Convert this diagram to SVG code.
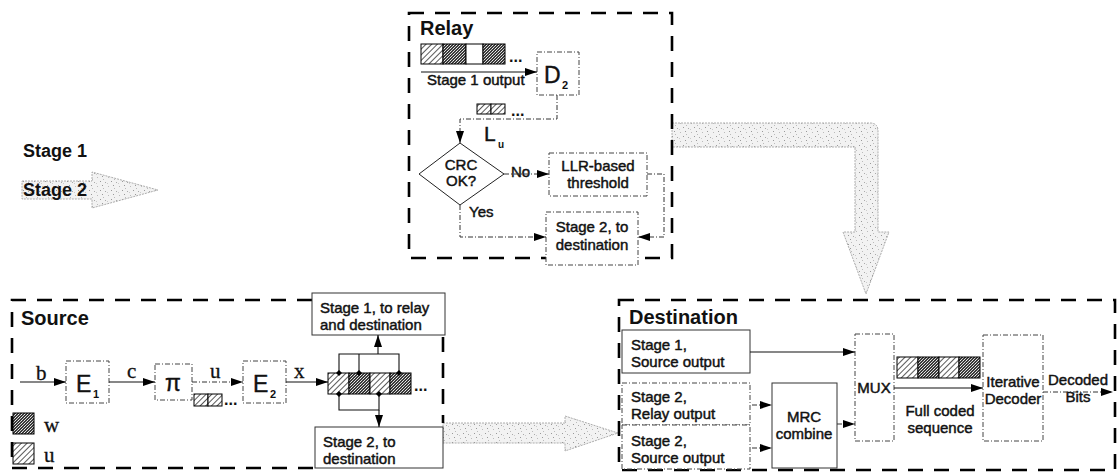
<svg xmlns="http://www.w3.org/2000/svg" width="1120" height="476" viewBox="0 0 1120 476">
<defs>
  <pattern id="hatch" width="4" height="4" patternUnits="userSpaceOnUse" patternTransform="rotate(45)">
    <rect width="4" height="4" fill="#fff"/>
    <line x1="0" y1="0" x2="0" y2="4" stroke="#000" stroke-width="1.3"/>
  </pattern>
  <pattern id="cross" width="3" height="3" patternUnits="userSpaceOnUse">
    <rect width="3" height="3" fill="#3a3a3a"/>
    <rect x="0" y="0" width="1" height="1" fill="#eee"/>
    <rect x="2" y="1" width="1" height="1" fill="#ccc"/>
    <rect x="1" y="2" width="1" height="1" fill="#ddd"/>
  </pattern>
  <pattern id="stipple" width="11" height="9" patternUnits="userSpaceOnUse">
    <rect width="11" height="9" fill="#f2f2f2"/>
    <rect x="1" y="1" width="1" height="1" fill="#999"/>
    <rect x="6" y="2" width="1" height="1" fill="#aaa"/>
    <rect x="3" y="5" width="1" height="1" fill="#999"/>
    <rect x="9" y="6" width="1" height="1" fill="#bbb"/>
    <rect x="8" y="3" width="1" height="1" fill="#ccc"/>
    <rect x="4" y="8" width="1" height="1" fill="#bbb"/>
  </pattern>
  <marker id="ah" viewBox="0 0 12 8" refX="12" refY="4" markerWidth="12" markerHeight="8" markerUnits="userSpaceOnUse" orient="auto">
    <path d="M0,0 L12,4 L0,8 z" fill="#000"/>
  </marker>
  <marker id="dot" viewBox="0 0 6 6" refX="3" refY="3" markerWidth="6" markerHeight="6" markerUnits="userSpaceOnUse">
    <path d="M3,0 L6,3 L3,6 L0,3 z" fill="#000"/>
  </marker>
  <style>
    text { font-family: "Liberation Sans", Arial, sans-serif; fill: #111; }
    .t { font-size: 15px; stroke: #111; stroke-width: 0.45; }
    .title { font-size: 20px; font-weight: bold; }
    .var { font-family: "Liberation Serif", "Times New Roman", serif; font-size: 21px; stroke: #111; stroke-width: 0.3; }
    .big { font-size: 23px; stroke: #111; stroke-width: 0.4; }
    .sub { font-size: 11px; font-weight: bold; }
    .grp { fill: none; stroke: #000; stroke-width: 2.6; stroke-dasharray: 15 11; }
    .box { fill: #fff; stroke: #333; stroke-width: 1; }
    .dbox { fill: #fff; stroke: #444; stroke-width: 1; stroke-dasharray: 5 2 1 2; }
    .ln { fill: none; stroke: #111; stroke-width: 1.1; }
    .dl { fill: none; stroke: #333; stroke-width: 1; stroke-dasharray: 5 2 1 2; }
    .cell { stroke: #000; stroke-width: 1; }
    .shade { fill: url(#stipple); stroke: #999; stroke-width: 0.8; stroke-dasharray: 2 1; }
    .dots { font-size: 16px; font-weight: bold; }
  </style>
</defs>

<!-- Legend -->
<g id="legend">
  <text x="23" y="157" style="font-size:18px;font-weight:bold">Stage 1</text>
  <path class="shade" d="M22,181 H92 V172 L158,190 L92,208 V199 H22 Z"/>
  <text x="23" y="196" style="font-size:18px;font-weight:bold">Stage 2</text>
</g>

<!-- Big stage-2 arrows -->
<g id="stage2-arrows">
  <path class="shade" d="M672,123 H870 Q878,123 878,131 V232 H889 L866,294 L843,232 H855 V147 H672 Z"/>
  <path class="shade" d="M443,423 H565 V416 L618,433 L565,451 V443 H443 Z"/>
</g>

<!-- Relay -->
<g id="relay">
  <rect class="grp" x="409" y="13" width="263" height="245"/>
  <text class="title" x="420" y="35">Relay</text>
  <rect class="cell" x="421" y="44" width="22" height="20" fill="url(#hatch)"/>
  <rect class="cell" x="443" y="44" width="23" height="20" fill="url(#cross)"/>
  <rect class="cell" x="466" y="44" width="17" height="20" fill="#fff"/>
  <rect class="cell" x="483" y="44" width="22" height="20" fill="url(#cross)"/>
  <text class="dots" x="509" y="62">...</text>
  <text class="t" x="427" y="85">Stage 1 output</text>
  <g id="relay-d2">
    <rect class="dbox" x="537" y="52" width="42" height="43"/>
    <text class="big" x="544" y="83">D</text>
    <text class="sub" x="562" y="89">2</text>
  </g>
  <rect class="cell" x="477" y="104" width="14" height="10" fill="url(#hatch)"/>
  <rect class="cell" x="491" y="104" width="14" height="10" fill="url(#hatch)"/>
  <text class="dots" x="511" y="116">...</text>
  <text class="big" x="484" y="141" style="font-size:21px">L</text>
  <text class="sub" x="498" y="148" style="font-size:10px">u</text>
  <g id="relay-crc">
    <path d="M460,143 L504,174 L460,205 L419,174 Z" fill="#fff" stroke="#222" stroke-width="1"/>
    <text class="t" x="461" y="170" text-anchor="middle">CRC</text>
    <text class="t" x="461" y="186" text-anchor="middle">OK?</text>
  </g>
  <text class="t" x="511" y="177">No</text>
  <text class="t" x="469" y="217">Yes</text>
  <g id="relay-llr">
    <rect class="dbox" x="549" y="153" width="98" height="43"/>
    <text class="t" x="598" y="171" text-anchor="middle">LLR-based</text>
    <text class="t" x="598" y="188" text-anchor="middle">threshold</text>
  </g>
  <g id="relay-stage2">
    <rect class="dbox" x="546" y="212" width="92" height="53"/>
    <text class="t" x="592" y="232" text-anchor="middle">Stage 2, to</text>
    <text class="t" x="592" y="250" text-anchor="middle">destination</text>
  </g>
</g>

<!-- Source -->
<g id="source">
  <path class="grp" d="M312,300 H12 V468 H314"/>
  <path class="grp" d="M443,337 V423"/>
  <text class="title" x="21" y="325">Source</text>
  <g id="src-e1">
    <rect class="dbox" x="66" y="361" width="43" height="42"/>
    <text class="big" x="76" y="392">E</text>
    <text class="sub" x="93" y="398">1</text>
  </g>
  <g id="src-pi">
    <rect class="dbox" x="155" y="364" width="37" height="36"/>
    <text class="big" x="173" y="391" text-anchor="middle">π</text>
  </g>
  <g id="src-e2">
    <rect class="dbox" x="243" y="361" width="43" height="42"/>
    <text class="big" x="253" y="392">E</text>
    <text class="sub" x="270" y="398">2</text>
  </g>
  <rect class="cell" x="194" y="394" width="14" height="12" fill="url(#hatch)"/>
  <rect class="cell" x="208" y="394" width="14" height="12" fill="url(#hatch)"/>
  <text class="dots" x="224" y="405">...</text>
  <text class="var" x="36" y="380">b</text>
  <text class="var" x="127" y="378">c</text>
  <text class="var" x="210" y="378">u</text>
  <text class="var" x="294" y="378">x</text>
  <rect class="cell" x="328" y="373" width="21" height="21" fill="url(#hatch)"/>
  <rect class="cell" x="349" y="373" width="21" height="21" fill="url(#cross)"/>
  <rect class="cell" x="370" y="373" width="20" height="21" fill="url(#hatch)"/>
  <rect class="cell" x="390" y="373" width="21" height="21" fill="url(#cross)"/>
  <text class="dots" x="414" y="391">...</text>
  <rect class="cell" x="13" y="413" width="21" height="21" fill="url(#cross)"/>
  <text class="var" x="44" y="432">w</text>
  <rect class="cell" x="13" y="443" width="21" height="21" fill="url(#hatch)"/>
  <text class="var" x="44" y="462">u</text>
  <g id="src-stage1">
    <rect class="box" x="312" y="293" width="133" height="42"/>
    <text class="t" x="320" y="313">Stage 1, to relay</text>
    <text class="t" x="320" y="330">and destination</text>
  </g>
  <g id="src-stage2">
    <rect class="box" x="315" y="427" width="128" height="41"/>
    <text class="t" x="323" y="447">Stage 2, to</text>
    <text class="t" x="323" y="464">destination</text>
  </g>
</g>

<!-- Destination -->
<g id="destination">
  <rect class="grp" x="619" y="300" width="496" height="170"/>
  <text class="title" x="629" y="324">Destination</text>
  <g id="dst-s1">
    <rect class="box" x="622" y="330" width="128" height="43"/>
    <text class="t" x="631" y="350">Stage 1,</text>
    <text class="t" x="631" y="367">Source output</text>
  </g>
  <g id="dst-s2r">
    <rect class="dbox" x="622" y="383" width="128" height="42"/>
    <text class="t" x="631" y="402">Stage 2,</text>
    <text class="t" x="631" y="419">Relay output</text>
  </g>
  <g id="dst-s2s">
    <rect class="dbox" x="622" y="425" width="128" height="44"/>
    <text class="t" x="631" y="446">Stage 2,</text>
    <text class="t" x="631" y="463">Source output</text>
  </g>
  <g id="dst-mrc">
    <rect class="box" x="772" y="383" width="65" height="85"/>
    <text class="t" x="804" y="422" text-anchor="middle">MRC</text>
    <text class="t" x="804" y="439" text-anchor="middle">combine</text>
  </g>
  <g id="dst-mux">
    <rect class="dbox" x="855" y="334" width="39" height="107"/>
    <text class="t" x="874" y="393" text-anchor="middle" style="font-size:15px">MUX</text>
  </g>
  <rect class="cell" x="897" y="357" width="21" height="21" fill="url(#hatch)"/>
  <rect class="cell" x="918" y="357" width="21" height="21" fill="url(#cross)"/>
  <rect class="cell" x="939" y="357" width="20" height="21" fill="url(#hatch)"/>
  <rect class="cell" x="959" y="357" width="21" height="21" fill="url(#cross)"/>
  <text class="t" x="940" y="416" text-anchor="middle">Full coded</text>
  <text class="t" x="940" y="433" text-anchor="middle">sequence</text>
  <g id="dst-dec">
    <rect class="dbox" x="983" y="335" width="60" height="106"/>
    <text class="t" x="1013" y="387" text-anchor="middle">Iterative</text>
    <text class="t" x="1013" y="404" text-anchor="middle">Decoder</text>
  </g>
  <text class="t" x="1078" y="385" text-anchor="middle">Decoded</text>
  <text class="t" x="1078" y="402" text-anchor="middle">Bits</text>
</g>

<!-- Connectors -->
<g id="connectors">
  <!-- relay -->
  <line class="ln" x1="421" y1="72" x2="537" y2="72" marker-end="url(#ah)"/>
  <path class="dl" d="M557,95 V119 H460 V143" marker-end="url(#ah)"/>
  <line class="dl" x1="504" y1="174" x2="549" y2="174" marker-end="url(#ah)"/>
  <path class="dl" d="M647,174 H664 V237 H638" marker-end="url(#ah)"/>
  <path class="dl" d="M460,205 V237 H546" marker-end="url(#ah)"/>
  <!-- source chain -->
  <line class="ln" x1="20" y1="382" x2="66" y2="382" marker-end="url(#ah)"/>
  <line class="ln" x1="109" y1="382" x2="155" y2="382" marker-end="url(#ah)"/>
  <line class="dl" x1="192" y1="382" x2="243" y2="382" marker-end="url(#ah)"/>
  <line class="ln" x1="286" y1="382" x2="328" y2="382" marker-end="url(#ah)"/>
  <path class="ln" d="M339,373 V354 H399 V373" marker-start="url(#dot)" marker-end="url(#dot)"/>
  <path class="ln" d="M359,354 V373" marker-end="url(#dot)"/>
  <line class="ln" x1="378" y1="354" x2="378" y2="335" marker-end="url(#ah)"/>
  <path class="ln" d="M339,394 V410 H379 V394" marker-start="url(#dot)" marker-end="url(#dot)"/>
  <line class="ln" x1="379" y1="410" x2="379" y2="427" marker-end="url(#ah)"/>
  <!-- destination -->
  <line class="ln" x1="750" y1="352" x2="855" y2="352" marker-end="url(#ah)"/>
  <line class="dl" x1="752" y1="405" x2="772" y2="405" marker-end="url(#ah)"/>
  <line class="dl" x1="752" y1="448" x2="772" y2="448" marker-end="url(#ah)"/>
  <line class="dl" x1="837" y1="424" x2="855" y2="424" marker-end="url(#ah)"/>
  <line class="ln" x1="894" y1="388" x2="983" y2="388" marker-end="url(#ah)"/>
  <line class="dl" x1="1043" y1="392" x2="1113" y2="392" marker-end="url(#ah)"/>
</g>
</svg>
